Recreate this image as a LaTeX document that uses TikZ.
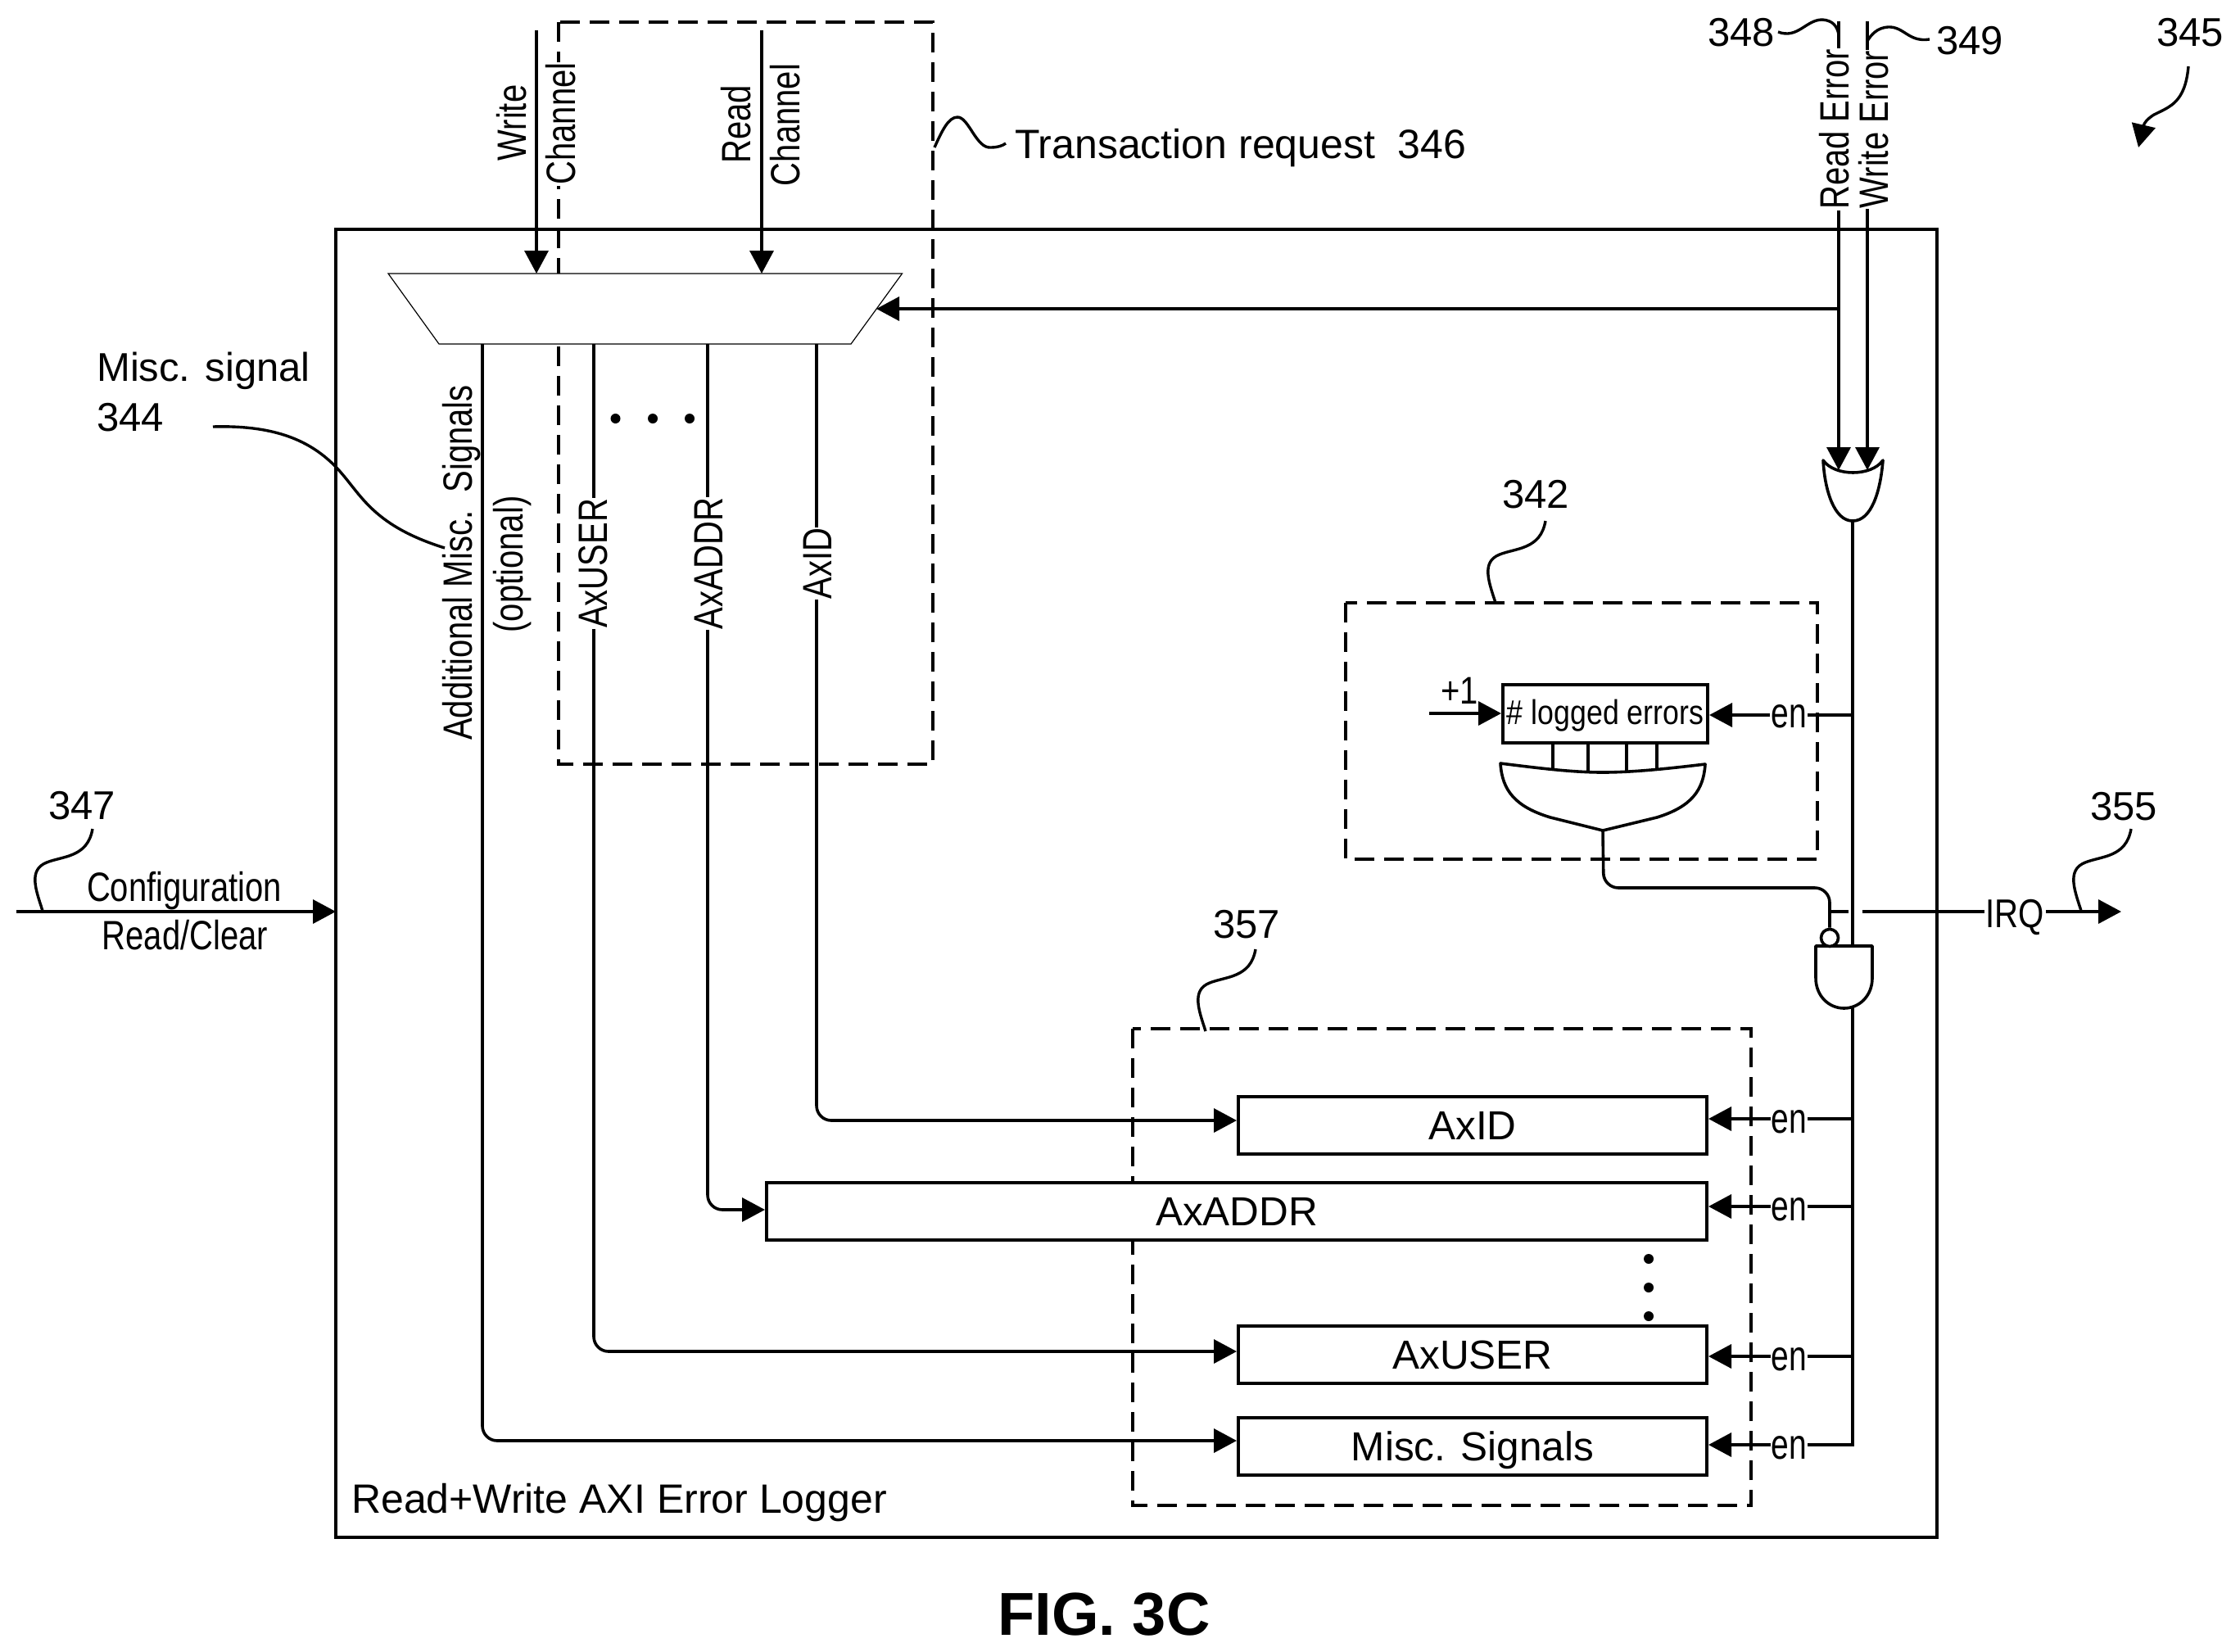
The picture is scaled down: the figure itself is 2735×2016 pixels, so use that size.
\documentclass[tikz,border=0pt]{standalone}
\usepackage{fontspec}
\usetikzlibrary{arrows.meta}
\setmainfont{Liberation Sans}
\newfontfamily\nfa{Liberation Sans}[FakeStretch=0.80]
\newfontfamily\nfb{Liberation Sans}[FakeStretch=0.75]
\newfontfamily\nfc{Liberation Sans}[FakeStretch=0.82]
\newfontfamily\nfd{Liberation Sans}[FakeStretch=0.85]
\newcommand{\fs}[1]{\fontsize{#1}{#1}\selectfont}
\tikzset{
  x=1pt,y=-1pt,
  >={Triangle[length=28pt,width=29pt]},
  wire/.style={draw=black,line width=3.6pt},
  lead/.style={draw=black,line width=3.4pt},
  dashbox/.style={draw=black,line width=3.6pt,dash pattern=on 24pt off 12pt},
  frame/.style={draw=black,line width=4pt},
  gate/.style={draw=black,fill=white,line width=3.6pt,line join=round},
  regbox/.style={draw=black,fill=white,line width=4pt,minimum height=70pt,text height=35pt,text depth=0pt,inner sep=0pt,font=\fs{49.5}},
  rot/.style={rotate=90,anchor=base,font=\nfa\fs{50},inner sep=1pt,outer sep=0pt},
  rotw/.style={rot,fill=white},
  lbl/.style={anchor=base,font=\fs{49},inner sep=0pt},
  enl/.style={anchor=base,font=\nfb\fs{52},inner sep=1pt,fill=white},
  dot/.style={circle,fill=black,inner sep=0pt,minimum size=12pt},
}
\begin{document}
\begin{tikzpicture}
\useasboundingbox[fill=white] (0,0) rectangle (2735,2016);
% dashed groups
\draw[dashbox] (682,27) rectangle (1139,933);
\draw[dashbox] (1643,736) rectangle (2219,1049);
\draw[dashbox] (1383,1256) rectangle (2138,1838);
% frame
\draw[frame] (410,280) rectangle (2365,1877);
% multiplexer
\coordinate (muxsel) at (1070,377);
\coordinate (wr) at (655,334);
\coordinate (rd) at (930,334);
\coordinate (mA) at (589,420);
\coordinate (mU) at (725,420);
\coordinate (mD) at (864,420);
\coordinate (mI) at (997,420);
\draw[fill=white,draw=black,line width=1.2pt] (474,334) -- (1101.5,334) -- (1039,420) -- (536,420) -- cycle;
% registers
\node[regbox,minimum width=572pt] (axid) at (1798,1373.5) {AxID};
\node[regbox,minimum width=1148pt] (axaddr) at (1510,1478.5) {AxADDR};
\node[regbox,minimum width=572pt] (axuser) at (1798,1653.5) {AxUSER};
\node[regbox,minimum width=572pt] (miscreg) at (1798,1766) {Misc. Signals};
% counter
\node[draw=black,fill=white,line width=4pt,minimum width=250pt,minimum height=71pt,inner sep=0pt,text height=25pt,text depth=0pt,font=\nfd\fs{42}] (cnt) at (1960,871.5) {\# logged errors};
\node[anchor=base,font=\nfd\fs{47},inner sep=0pt] (plus) at (1782,859) {+1};
\coordinate (plusin) at (1745,871);
\draw[wire,->] (plusin) -- (cnt.west |- plusin);
% decoder
\coordinate (dectip) at (1957,1014);
\draw[gate,fill=none] (1832,932) .. controls (1880,938) and (1920,943) .. (1957,943) .. controls (1995,943) and (2040,938) .. (2082,933)
  .. controls (2080,965) and (2065,985) .. (2023,998) -- (dectip) -- (1893,998) .. controls (1850,985) and (1834,965) .. cycle;
\foreach \xx/\yy in {1896/938,1939/943,1986/943,2023/938}{
  \draw[wire] (\xx,907) -- (\xx,\yy);
}
% error lines and OR gate
\coordinate (re) at (2245,26);
\coordinate (we) at (2280,26);
\coordinate (orout) at (2262,636);
\draw[wire,->] (re) |- (muxsel);
\draw[gate] (2226,562) .. controls (2240,582) and (2285,582) .. (2299,562) .. controls (2296,600) and (2285,636) .. (orout) .. controls (2240,636) and (2228,600) .. cycle;
\draw[wire,->] (re) -- (2245,574);
\draw[wire,->] (we) -- (2280,574);
% enable rail, AND gate
\coordinate (railend) at (2262,1764);
\draw[wire] (orout) -- (2262,1155);
\draw[gate] (2217,1155) -- (2286,1155) -- (2286,1194) .. controls (2286,1216) and (2270,1231) .. (2251.5,1231) .. controls (2233,1231) and (2217,1216) .. (2217,1194) -- cycle;
\node[circle,draw=black,fill=white,line width=3.6pt,minimum size=21pt,inner sep=0pt] (bub) at (2234,1145) {};
\draw[wire,rounded corners=18pt] (dectip) -- (1958,1084) -- (2234,1084) -- (bub.north);
\draw[wire] (2262,1229) -- (railend) -- (2206,1764);
% enable inputs
\draw[wire,->] (2262,873) -- (cnt.east |- 2262,873);
\draw[wire,->] (2262,1366) -- ([yshift=7.5pt]axid.east);
\draw[wire,->] (2262,1473) -- ([yshift=5.5pt]axaddr.east);
\draw[wire,->] (2262,1656) -- ([yshift=-2.5pt]axuser.east);
\draw[wire,->] (railend) -- ([yshift=2pt]miscreg.east);
% IRQ
\coordinate (irqa) at (2234,1113);
\coordinate (irqb) at (2257,1113);
\coordinate (irqc) at (2274,1113);
\coordinate (irqd) at (2590,1113);
\draw[wire] (irqa) -- (irqb);
\draw[wire,->] (irqc) -- (irqd);
% inputs to mux
\draw[wire,->] (655,37) -- (wr);
\draw[wire,->] (930,37) -- (rd);
% mux outputs
\draw[wire,->,rounded corners=18pt] (mI) |- ([yshift=5.5pt]axid.west);
\draw[wire,->,rounded corners=18pt] (mD) |- ([yshift=1.5pt]axaddr.west);
\draw[wire,->,rounded corners=18pt] (mU) |- ([yshift=3.5pt]axuser.west);
\draw[wire,->,rounded corners=18pt] (mA) |- ([yshift=7pt]miscreg.west);
% config
\coordinate (cfg) at (20,1113);
\draw[wire,->] (cfg) -- (410,1113);
% leaders
\draw[lead] (52,1112) .. controls (44,1087) and (34,1062) .. (57,1053) .. controls (77,1045) and (107,1047) .. (113,1012);
\draw[lead] (2541,1112) .. controls (2533,1087) and (2523,1062) .. (2546,1053) .. controls (2566,1045) and (2596,1047) .. (2602,1012);
\draw[lead] (1472,1259) .. controls (1464,1234) and (1454,1209) .. (1477,1200) .. controls (1497,1192) and (1527,1194) .. (1533,1159);
\draw[lead] (1826,736) .. controls (1818,711) and (1808,686) .. (1831,677) .. controls (1851,669) and (1881,671) .. (1887,636);
\draw[lead] (260,521) .. controls (330,519) and (375,535) .. (408,568) .. controls (440,600) and (450,640) .. (543,669);
\draw[lead] (1141,180) .. controls (1150,160) and (1158,143) .. (1169,143) .. controls (1183,143) and (1192,182) .. (1210,180) .. controls (1218,180) and (1224,178) .. (1228,175);
\draw[lead] (2171,39) .. controls (2195,48) and (2205,24) .. (2225,24) .. controls (2238,25) and (2243,32) .. (re |- 0,42);
\draw[lead] (2356,48) .. controls (2330,52) and (2325,32) .. (2305,33) .. controls (2292,34) and (2285,42) .. (we |- 0,50);
\draw[lead,->] (2672,81) .. controls (2668,125) and (2650,130) .. (2630,140) .. controls (2622,145) and (2618,150) .. (2611,180);
% dots
\node[dot] (d1) at (751.5,511) {};
\node[dot] (d2) at (797,511) {};
\node[dot] (d3) at (842,511) {};
\node[dot] (d4) at (2013,1537) {};
\node[dot] (d5) at (2013,1572) {};
\node[dot] (d6) at (2013,1607) {};
% rotated labels
\node[rotw] (t1) at (2257,158) {Read Error};
\node[rotw] (t2) at (2305,158) {Write Error};
\node[rot] (t3) at (642,150) {Write};
\node[rotw] (t4) at (702,151) {Channel};
\node[rot] (t5) at (916,152) {Read};
\node[rot] (t6) at (976,152.5) {Channel};
\node[rot] (t7) at (576.5,687) {Additional Misc.\ \ Signals};
\node[rot] (t8) at (638,689) {(optional)};
\node[rotw] (t9) at (741,688) {AxUSER};
\node[rotw] (t10) at (882,688) {AxADDR};
\node[rotw] (t11) at (1015,688) {AxID};
% en labels
\node[enl] (e0) at (2184,888) {en};
\node[enl] (e1) at (2184.5,1383) {en};
\node[enl] (e2) at (2184.5,1490) {en};
\node[enl] (e3) at (2184.5,1673) {en};
\node[enl] (e4) at (2184.5,1781) {en};
\node[anchor=base,font=\nfc\fs{49},inner sep=2pt,fill=white] (irq) at (2460.5,1132) {IRQ};
% horizontal labels
\node[lbl,font=\nfa\fs{50}] (c1) at (225,1100) {Configuration};
\node[lbl,font=\nfa\fs{50}] (c2) at (226,1159) {Read/Clear};
\node[lbl] (n348) at (2126,56) {348};
\node[lbl] (n349) at (2405,66) {349};
\node[lbl] (n345) at (2674,56) {345};
\node[lbl] (n342) at (1875,620) {342};
\node[lbl] (n357) at (1522,1145) {357};
\node[lbl] (n355) at (2593,1001) {355};
\node[lbl] (n347) at (100,1000) {347};
\node[lbl,anchor=base west] (misc) at (118,465) {Misc. signal};
\node[lbl,anchor=base west] (n344) at (118,526) {344};
\node[lbl,anchor=base west,font=\fs{50}] (tr) at (1239,193) {Transaction request\ \ 346};
\node[lbl,anchor=base west,font=\fs{50}] (log) at (429,1847) {Read+Write AXI Error Logger};
\node[anchor=base,font=\bfseries\fs{74},inner sep=0pt] (fig) at (1348,1996) {FIG. 3C};
\end{tikzpicture}
\end{document}
